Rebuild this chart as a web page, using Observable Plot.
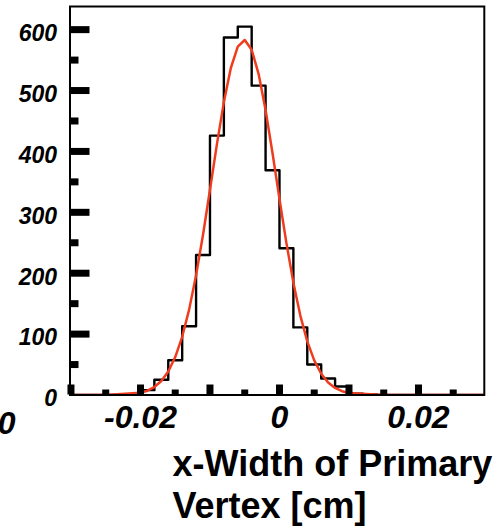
<!DOCTYPE html>
<html><head><meta charset="utf-8">
<script src="https://cdn.jsdelivr.net/npm/d3@7"></script>
<script src="https://cdn.jsdelivr.net/npm/@observablehq/plot@0.6"></script>
<style>
html,body{margin:0;padding:0;background:#fff;}
#chart{width:500px;height:529px;}
</style></head><body><div id="chart"></div>
<script>
// Histogram: left bin edges (width 0.002) and counts
const binEdges = [-0.030,-0.028,-0.026,-0.024,-0.022,-0.020,-0.018,-0.016,-0.014,-0.012,
  -0.010,-0.008,-0.006,-0.004,-0.002,0.000,0.002,0.004,0.006,0.008,
  0.010,0.012,0.014,0.016,0.018,0.020,0.022,0.024,0.026,0.028,0.030];
const binCounts = [0,0,0,0,1,8,25,57,113,230,
  426,587,605,508,369,241,111,50,27,14,
  2,1,0,0,0,0,0,0,0,0,0];
// Fit curve
const fitX = [-0.030,-0.025,-0.020,-0.019,-0.018,-0.017,-0.016,-0.015,-0.014,-0.013,-0.012,-0.011,
  -0.010,-0.009,-0.008,-0.007,-0.006,-0.005,-0.004,-0.003,-0.002,-0.001,0.000,0.001,0.002,
  0.003,0.004,0.005,0.006,0.007,0.008,0.009,0.010,0.015,0.020,0.030];
const fitY = [0,0.1,3.7,7.1,13.1,23,38.7,62.3,95.6,140.2,196.7,263.3,
  337,412,481,537,572,583,567,527,468,397,322,249.5,184.5,
  130.4,88,56.8,35,20.6,11.6,6.2,3.2,0.1,0,0];
// Ticks and labels
const xMajorTicks = [-0.03,-0.02,-0.01,0,0.01,0.02];
const xMinorTicks = [-0.025,-0.015,-0.005,0.005,0.015,0.025];
const xTickLabels = [-0.02,0,0.02];
const yMajorTicks = [100,200,300,400,500,600];
const yMinorTicks = [50,150,250,350,450,550];
const yTickLabels = [0,100,200,300,400,500,600];
const xTitle1 = "x-Width of Primary";
const xTitle2 = "Vertex [cm]";
const strayLabel = "0";

const W = 500, H = 529, mL = 69.5, mR = 16.2, mT = 6, mB = 134.5;
const fw = W - mL - mR, fh = H - mT - mB;
const font = "'Liberation Sans', Arial, Helvetica, sans-serif";

const hist = binEdges.map((e, i) => ({x: e, y: binCounts[i]}));
const fit = fitX.map((x, i) => ({x, y: fitY[i]}));

const chart = Plot.plot({
  width: W, height: H,
  marginLeft: mL, marginRight: mR, marginTop: mT, marginBottom: mB,
  style: {fontFamily: font, background: "white", color: "black"},
  x: {domain: [-0.03014, 0.02947], axis: null},
  y: {domain: [0, 638], axis: null},
  marks: [
    Plot.line(hist, {x: "x", y: "y", curve: "step-after", stroke: "black", strokeWidth: 2.4, clip: true}),
    Plot.line(fit, {x: "x", y: "y", stroke: "#f03c1e", strokeWidth: 2.5, clip: true}),
    Plot.frame({stroke: "black", strokeWidth: 2}),
    Plot.tickX(xMajorTicks, {x: d => d, insetTop: fh - 10, stroke: "black", strokeWidth: 7}),
    Plot.tickX(xMinorTicks, {x: d => d, insetTop: fh - 5, stroke: "black", strokeWidth: 7}),
    Plot.tickY(yMajorTicks, {y: d => d, insetRight: fw - 20, stroke: "black", strokeWidth: 7}),
    Plot.tickY(yMinorTicks, {y: d => d, insetRight: fw - 9, stroke: "black", strokeWidth: 7}),
    Plot.axisY({ticks: yTickLabels, tickSize: 0, tickPadding: 13, fontSize: 23, fontWeight: "bold", fontStyle: "italic", dy: 4, label: null}),
    Plot.axisX({ticks: xTickLabels, tickSize: 0, tickPadding: 10, fontSize: 32, fontWeight: "bold", fontStyle: "italic", tickFormat: d => String(d), label: null}),
    Plot.text([strayLabel], {text: d => d, frameAnchor: "bottom-left", dx: 15 - mL, dy: 423.5 - (H - mB), textAnchor: "end", lineAnchor: "middle", fontSize: 32, fontWeight: "bold", fontStyle: "italic"}),
    Plot.text([xTitle1], {text: d => d, frameAnchor: "bottom-left", dx: 172 - mL, dy: 464 - (H - mB), textAnchor: "start", lineAnchor: "middle", fontSize: 36, fontWeight: "bold"}),
    Plot.text([xTitle2], {text: d => d, frameAnchor: "bottom-left", dx: 172 - mL, dy: 506 - (H - mB), textAnchor: "start", lineAnchor: "middle", fontSize: 36, fontWeight: "bold"})
  ]
});
document.getElementById("chart").append(chart);
</script></body></html>
